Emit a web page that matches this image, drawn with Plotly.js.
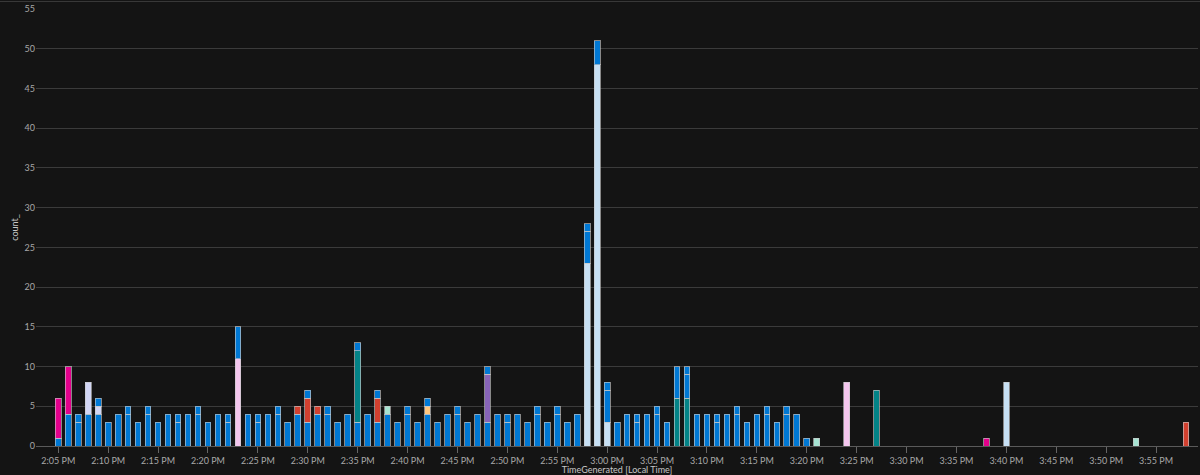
<!DOCTYPE html>
<html>
<head>
<meta charset="utf-8">
<script src="https://cdn.plot.ly/plotly-3.0.1.min.js"></script>
<style>
  html, body { margin: 0; padding: 0; background: #141414; }
  #chart { width: 1200px; height: 475px; }
</style>
</head>
<body>
<div id="chart"></div>
<script>
// ---- Data (count_ per minute, stacked by series) ----
const day = '2024-01-01';

// Main blue series (bottom blue segment), one value per minute
const blueATimes = ['14:05','14:06','14:07','14:08','14:09','14:10','14:11','14:12','14:13','14:14',
  '14:15','14:16','14:17','14:18','14:19','14:20','14:21','14:22','14:23','14:24',
  '14:25','14:26','14:27','14:28','14:29','14:30','14:31','14:32','14:33','14:34',
  '14:35','14:36','14:37','14:38','14:39','14:40','14:41','14:42','14:43','14:44',
  '14:45','14:46','14:47','14:48','14:49','14:50','14:51','14:52','14:53','14:54',
  '14:55','14:56','14:57','14:58','14:59','15:00','15:01','15:02','15:03','15:04',
  '15:05','15:06','15:07','15:08','15:09','15:10','15:11','15:12','15:13','15:14',
  '15:15','15:16','15:17','15:18','15:19','15:20'];
const blueAValues = [1,4,3,4,4,3,4,4,3,4,
  3,4,3,4,4,3,4,3,4,4,
  3,4,4,3,4,3,4,4,3,4,
  3,4,3,4,3,4,3,4,3,4,
  4,3,4,3,4,3,4,3,4,3,
  4,3,4,4,3,4,3,4,3,4,
  4,3,4,3,4,4,3,4,4,3,
  4,4,3,4,4,1];

// Second blue series (top blue segment)
const blueBTimes = ['14:07','14:09','14:12','14:14','14:17','14:19','14:22','14:25','14:27','14:30',
  '14:32','14:35','14:37','14:40','14:42','14:45','14:48','14:50','14:53','14:55',
  '14:58','15:00','15:03','15:05','15:08','15:11','15:13','15:16','15:18'];
const blueBValues = [1,1,1,1,1,1,1,1,1,1,
  1,1,1,1,1,1,1,1,1,1,
  1,1,1,1,1,1,1,1,1];

const lightTimes = ['14:58','14:59','15:00','15:40'];
const lightValues = [23,48,3,8];

const pinkTimes = ['14:23','15:24'];
const pinkValues = [11,8];

const tealLowTimes = ['15:07','15:08','15:27'];
const tealLowValues = [6,6,7];

const magentaTimes = ['14:05','14:06','15:38'];
const magentaValues = [5,6,1];

const lavenderTimes = ['14:08','14:09'];
const lavenderValues = [4,1];

const redTimes = ['14:29','14:30','14:31','14:37','15:58'];
const redValues = [1,3,1,3,3];

const tealTimes = ['14:35'];
const tealValues = [9];

const mintTimes = ['14:38','15:21','15:53'];
const mintValues = [1,1,1];

const peachTimes = ['14:42'];
const peachValues = [1];

const purpleTimes = ['14:48'];
const purpleValues = [6];

// ---- Series definitions (stack order bottom -> top) ----
const series = [
  {name: 'light',    t: lightTimes,    v: lightValues,    color: '#C7E0F4'},
  {name: 'pink',     t: pinkTimes,     v: pinkValues,     color: '#F4C6EE'},
  {name: 'tealLow',  t: tealLowTimes,  v: tealLowValues,  color: '#038387'},
  {name: 'blueA',    t: blueATimes,    v: blueAValues,    color: '#0078D4'},
  {name: 'magenta',  t: magentaTimes,  v: magentaValues,  color: '#E3008C'},
  {name: 'lavender', t: lavenderTimes, v: lavenderValues, color: '#D2D6F5'},
  {name: 'red',      t: redTimes,      v: redValues,      color: '#D2402F'},
  {name: 'teal',     t: tealTimes,     v: tealValues,     color: '#038387'},
  {name: 'mint',     t: mintTimes,     v: mintValues,     color: '#A6E3D2'},
  {name: 'peach',    t: peachTimes,    v: peachValues,    color: '#FFC67E'},
  {name: 'purple',   t: purpleTimes,   v: purpleValues,   color: '#8764B8'},
  {name: 'blueB',    t: blueBTimes,    v: blueBValues,    color: '#0078D4'}
];

const traces = series.map(s => ({
  type: 'bar',
  name: s.name,
  x: s.t.map(t => day + ' ' + t),
  y: s.v,
  marker: {color: s.color, line: {color: 'rgba(200,200,200,0.65)', width: 1}},
  hoverinfo: 'x+y+name'
}));

const fontFam = 'Segoe UI, Lato, Open Sans, sans-serif';

const layout = {
  width: 1200,
  height: 475,
  paper_bgcolor: '#141414',
  plot_bgcolor: '#141414',
  barmode: 'stack',
  bargap: 0.43,
  showlegend: false,
  margin: {l: 36, r: 2, t: 9, b: 29},
  font: {family: fontFam, color: '#a8a8a8', size: 9},
  xaxis: {
    type: 'date',
    range: [day + ' 14:02:46', day + ' 15:59:12'],
    tick0: day + ' 14:00',
    dtick: 300000,
    tickformat: '%-I:%M %p',
    ticks: 'outside',
    ticklen: 6,
    tickcolor: '#666666',
    showgrid: false,
    showline: true,
    linecolor: '#5a5a5a',
    linewidth: 1,
    zeroline: false,
    automargin: false,
    tickfont: {family: fontFam, size: 9, color: '#a8a8a8'},
    title: {text: 'TimeGenerated [Local Time]', standoff: 2,
            font: {family: fontFam, size: 9, color: '#c8c8c8'}}
  },
  yaxis: {
    range: [0, 55],
    dtick: 5,
    showgrid: true,
    gridcolor: '#3b3b3b',
    gridwidth: 1,
    zeroline: false,
    showline: false,
    ticks: '',
    automargin: false,
    tickfont: {family: fontFam, size: 9, color: '#a8a8a8'},
    title: {text: 'count_', standoff: 4,
            font: {family: fontFam, size: 9, color: '#c8c8c8'}}
  },
  shapes: [
    {type: 'line', xref: 'paper', yref: 'paper', x0: -0.04, x1: 1.01, y0: 1.0172, y1: 1.0172,
     line: {color: '#3a3a3a', width: 1}}
  ]
};

Plotly.newPlot('chart', traces, layout, {displayModeBar: false, staticPlot: true});
</script>
</body>
</html>
